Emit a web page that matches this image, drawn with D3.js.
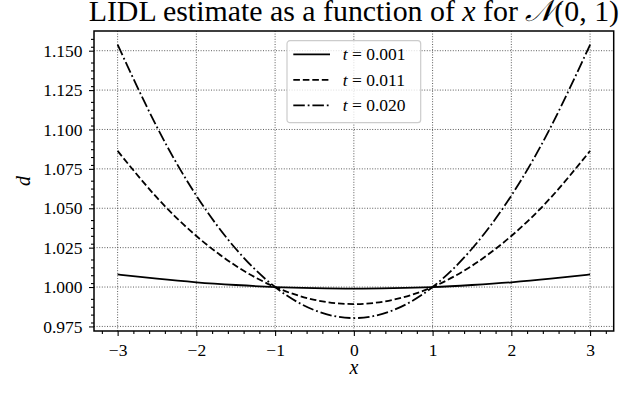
<!DOCTYPE html>
<html>
<head>
<meta charset="utf-8">
<script src="https://d3js.org/d3.v7.min.js"></script>
<style>
body { margin: 0; background: #fff; }
text { font-family: "Liberation Serif", "DejaVu Serif", serif; fill: #000; }
</style>
</head>
<body>
<div id="chart-container"></div>
<script>
// values
var xs = [-3, -2.5, -2, -1.5, -1, -0.5, 0, 0.5, 1, 1.5, 2, 2.5, 3];
var d_t001 = [1.0080, 1.0053, 1.0030, 1.0013, 1.0000, 0.9993, 0.9990, 0.9993, 1.0000, 1.0013, 1.0030, 1.0053, 1.0080];
var d_t011 = [1.0864, 1.0567, 1.0324, 1.0135, 1.0000, 0.9919, 0.9892, 0.9919, 1.0000, 1.0135, 1.0324, 1.0567, 1.0864];
var d_t020 = [1.1538, 1.1015, 1.0580, 1.0243, 1.0000, 0.9853, 0.9803, 0.9853, 1.0000, 1.0243, 1.0580, 1.1015, 1.1538];
var seriesNames = ["0.001", "0.011", "0.020"];
var xTicks = [-3, -2, -1, 0, 1, 2, 3];
var yTicks = [0.975, 1.000, 1.025, 1.050, 1.075, 1.100, 1.125, 1.150];

const width = 644
const height = 393
const margin = {top: 31, right: 30.3, bottom: 62, left: 94}
const w = width - margin.left - margin.right
const h = height - margin.top - margin.bottom
const serif = "'Liberation Serif', 'DejaVu Serif', serif"

var xscale = d3.scaleLinear().domain([-3.3, 3.3]).range([0, w]);
var yscale = d3.scaleLinear().domain([0.9721, 1.1625]).range([h, 0]);

const svg = d3.select("#chart-container")
	.append("svg")
	.attr("width", width)
	.attr("height", height);

const g = svg.append("g")
	.attr("transform", `translate(${margin.left}, ${margin.top})`);

// grid
g.selectAll(".gx").data(xTicks).enter().append("line")
	.attr("x1", d => xscale(d)).attr("x2", d => xscale(d))
	.attr("y1", 0).attr("y2", h)
	.attr("stroke", "#333").attr("stroke-width", 0.8)
	.attr("stroke-dasharray", "1,1.6");
g.selectAll(".gy").data(yTicks).enter().append("line")
	.attr("y1", d => yscale(d)).attr("y2", d => yscale(d))
	.attr("x1", 0).attr("x2", w)
	.attr("stroke", "#333").attr("stroke-width", 0.8)
	.attr("stroke-dasharray", "1,1.6");

// curves
var series = [
	{name: seriesNames[0], vals: d_t001, dash: null},
	{name: seriesNames[1], vals: d_t011, dash: "6.6,2.9"},
	{name: seriesNames[2], vals: d_t020, dash: "11.5,2.9,1.8,2.9"}
];

const line = d3.line()
	.x(d => xscale(d[0]))
	.y(d => yscale(d[1]))
	.curve(d3.curveNatural);

series.forEach(function(s) {
	g.append("path")
		.datum(xs.map((x, i) => [x, s.vals[i]]))
		.attr("fill", "none")
		.attr("stroke", "#000")
		.attr("stroke-width", 1.8)
		.attr("stroke-dasharray", s.dash)
		.attr("d", line);
});

// axes
const fmtMinus = f => (v => f(v).replace("-", "\u2212"));

g.append("g")
	.attr("transform", `translate(0, ${h})`)
	.call(d3.axisBottom(xscale).tickValues(xTicks).tickSize(5).tickPadding(8)
		.tickFormat(fmtMinus(d3.format("d"))))
	.attr("font-family", serif).attr("font-size", 17.5);
var xMinor = [];
for (var i = -16; i <= 16; i++) { if (i % 5 != 0) xMinor.push(i / 5); }
g.append("g")
	.attr("transform", `translate(0, ${h})`)
	.call(d3.axisBottom(xscale).tickValues(xMinor).tickSize(3).tickFormat(""));

g.append("g")
	.call(d3.axisLeft(yscale).tickValues(yTicks).tickSize(5).tickPadding(6.5)
		.tickFormat(d3.format(".3f")))
	.attr("font-family", serif).attr("font-size", 17.5);
var yMinor = [];
for (var j = 0; j <= 37; j++) {
	var v = 0.9725 + j * 0.005;
	if (j % 5 != 0 && v > 0.9721 && v < 1.1625) yMinor.push(v);
}
g.append("g")
	.call(d3.axisLeft(yscale).tickValues(yMinor).tickSize(3).tickFormat(""));

g.selectAll(".domain").remove();
g.selectAll(".tick line").attr("stroke", "#000").attr("stroke-width", 1.1);

// frame
g.append("rect")
	.attr("x", 0).attr("y", 0).attr("width", w).attr("height", h)
	.attr("fill", "none").attr("stroke", "#000").attr("stroke-width", 1.5);

// axis labels
svg.append("text")
	.attr("x", margin.left + w / 2).attr("y", 374)
	.attr("text-anchor", "middle")
	.style("font-size", "20px").style("font-style", "italic")
	.text("x");
svg.append("text")
	.attr("transform", "translate(30, 181) rotate(-90)")
	.attr("text-anchor", "middle")
	.style("font-size", "20px").style("font-style", "italic")
	.text("d");

// title
var title = svg.append("text")
	.attr("x", margin.left + w / 2).attr("y", 21)
	.attr("text-anchor", "middle")
	.style("font-size", "23px");
title.append("tspan").text("LIDL estimate as a function of ");
title.append("tspan").style("font-style", "italic").text("x");
title.append("tspan").text(" for ");
title.append("tspan").style("font-style", "italic").text("\uD835\uDCA9");
title.append("tspan").text("(0, 1)");
var tl = title.node().getComputedTextLength();
title.style("font-size", (23 * 530 / tl) + "px");

// legend
const leg = svg.append("g").attr("transform", "translate(287, 40.7)");
leg.append("rect")
	.attr("width", 133.7).attr("height", 82)
	.attr("rx", 3).attr("ry", 3)
	.attr("fill", "#fff").attr("fill-opacity", 0.8)
	.attr("stroke", "#ccc").attr("stroke-width", 1.2);
series.forEach(function(s, i) {
	var yy = 13.6 + i * 25.5;
	leg.append("line")
		.attr("x1", 6.3).attr("x2", 43).attr("y1", yy).attr("y2", yy)
		.attr("stroke", "#000").attr("stroke-width", 1.8)
		.attr("stroke-dasharray", s.dash);
	var t = leg.append("text")
		.attr("x", 55.7).attr("y", yy + 6)
		.style("font-size", "17.5px");
	t.append("tspan").style("font-style", "italic").text("t");
	t.append("tspan").text(" = " + s.name);
});
</script>
</body>
</html>
